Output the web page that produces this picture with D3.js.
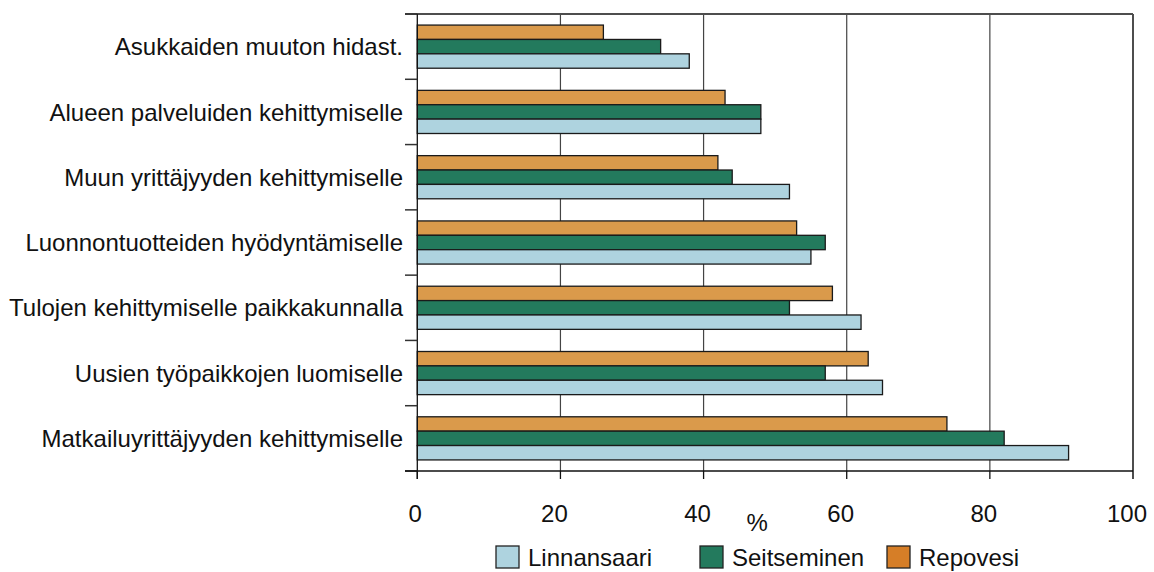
<!DOCTYPE html>
<html>
<head>
<meta charset="utf-8">
<script src="https://cdn.jsdelivr.net/npm/d3@7/dist/d3.min.js"></script>
<style>
  html, body { margin: 0; padding: 0; background: #ffffff; }
  svg { display: block; font-family: "Liberation Sans", Arial, sans-serif; }
</style>
</head>
<body>
<svg id="chart" width="1154" height="572"></svg>
<script>
// ---- data ----
const categories = [
  "Asukkaiden muuton hidast.",
  "Alueen palveluiden kehittymiselle",
  "Muun yrittäjyyden kehittymiselle",
  "Luonnontuotteiden hyödyntämiselle",
  "Tulojen kehittymiselle paikkakunnalla",
  "Uusien työpaikkojen luomiselle",
  "Matkailuyrittäjyyden kehittymiselle"
];
const seriesNames = ["Repovesi", "Seitseminen", "Linnansaari"];
const repovesi    = [26, 43, 42, 53, 58, 63, 74];
const seitseminen = [34, 48, 44, 57, 52, 57, 82];
const linnansaari = [38, 48, 52, 55, 62, 65, 91];
const xTicks = [0, 20, 40, 60, 80, 100];
const gridTicks = [20, 40, 60, 80];
const legendOrder = ["Linnansaari", "Seitseminen", "Repovesi"];
const axisTitle = "%";

const seriesValues = { Repovesi: repovesi, Seitseminen: seitseminen, Linnansaari: linnansaari };
const barColors = { Repovesi: "#da9a4b", Seitseminen: "#237a5d", Linnansaari: "#aed3df" };
const legendColors = { Repovesi: "#d67e27", Seitseminen: "#237a5d", Linnansaari: "#aed3df" };

// ---- layout ----
const mLeft = 417.3, mRight = 1133, mTop = 14, mBottom = 471;
const svg = d3.select("#chart");

const x = d3.scaleLinear().domain([0, 100]).range([mLeft, mRight]);
const y = d3.scaleBand().domain(categories).range([mTop, mBottom]).padding(0);
const ySub = d3.scaleBand().domain(seriesNames).range([0, y.bandwidth()])
  .paddingInner(0).paddingOuter(0.77);

// gridlines
svg.append("g").selectAll("line").data(gridTicks).join("line")
  .attr("x1", d => x(d)).attr("x2", d => x(d))
  .attr("y1", mTop).attr("y2", mBottom)
  .attr("stroke", "#444").attr("stroke-width", 1.2);

// bars
const rows = categories.map((c, i) => ({ cat: c, i }));
const groups = svg.append("g").selectAll("g").data(rows).join("g")
  .attr("transform", d => `translate(0,${y(d.cat)})`);
groups.selectAll("rect")
  .data(d => seriesNames.map(s => ({ s, v: seriesValues[s][d.i] })))
  .join("rect")
  .attr("x", x(0))
  .attr("y", d => ySub(d.s))
  .attr("width", d => x(d.v) - x(0))
  .attr("height", ySub.bandwidth())
  .attr("fill", d => barColors[d.s])
  .attr("stroke", "#1a1a1a")
  .attr("stroke-width", 1.3);

// top frame line and right line
svg.append("line")
  .attr("x1", 405).attr("x2", mRight).attr("y1", mTop).attr("y2", mTop)
  .attr("stroke", "#4d4d4d").attr("stroke-width", 2);
svg.append("line")
  .attr("x1", mRight).attr("x2", mRight).attr("y1", mTop).attr("y2", mBottom + 8)
  .attr("stroke", "#4d4d4d").attr("stroke-width", 2);

// left axis
svg.append("line")
  .attr("x1", mLeft).attr("x2", mLeft).attr("y1", mTop).attr("y2", mBottom + 8)
  .attr("stroke", "#111").attr("stroke-width", 1.3);
const boundaries = categories.map(c => y(c)).concat([mBottom]);
svg.append("g").selectAll("line").data(boundaries).join("line")
  .attr("x1", 405).attr("x2", mLeft)
  .attr("y1", d => d).attr("y2", d => d)
  .attr("stroke", "#333").attr("stroke-width", 1.5);

// category labels
svg.append("g").selectAll("text").data(categories).join("text")
  .attr("x", 403)
  .attr("y", d => y(d) + y.bandwidth() / 2)
  .attr("dy", "0.36em")
  .attr("text-anchor", "end")
  .attr("font-size", 24)
  .attr("fill", "#111")
  .text(d => d);

// bottom axis
svg.append("line")
  .attr("x1", 405).attr("x2", mRight).attr("y1", mBottom).attr("y2", mBottom)
  .attr("stroke", "#111").attr("stroke-width", 1.3);
svg.append("g").selectAll("line").data(xTicks.slice(0, -1)).join("line")
  .attr("x1", d => x(d)).attr("x2", d => x(d))
  .attr("y1", mBottom).attr("y2", mBottom + 8)
  .attr("stroke", "#111").attr("stroke-width", 1.3);
svg.append("g").selectAll("text").data(xTicks).join("text")
  .attr("x", d => x(d) - (d === 0 ? 2 : 6))
  .attr("y", 522)
  .attr("text-anchor", "middle")
  .attr("font-size", 24)
  .attr("fill", "#111")
  .text(d => d);

svg.append("text")
  .attr("x", x(47.5)).attr("y", 531)
  .attr("text-anchor", "middle")
  .attr("font-size", 24)
  .attr("fill", "#111")
  .text(axisTitle);

// legend
const legendX = { Linnansaari: 496, Seitseminen: 700, Repovesi: 887 };
const lg = svg.append("g").selectAll("g").data(legendOrder).join("g")
  .attr("transform", d => `translate(${legendX[d]},546)`);
lg.append("rect")
  .attr("width", 23).attr("height", 22)
  .attr("fill", d => legendColors[d])
  .attr("stroke", "#222").attr("stroke-width", 1.3);
lg.append("text")
  .attr("x", 32).attr("y", 20)
  .attr("font-size", 24)
  .attr("fill", "#111")
  .text(d => d);
</script>
</body>
</html>
